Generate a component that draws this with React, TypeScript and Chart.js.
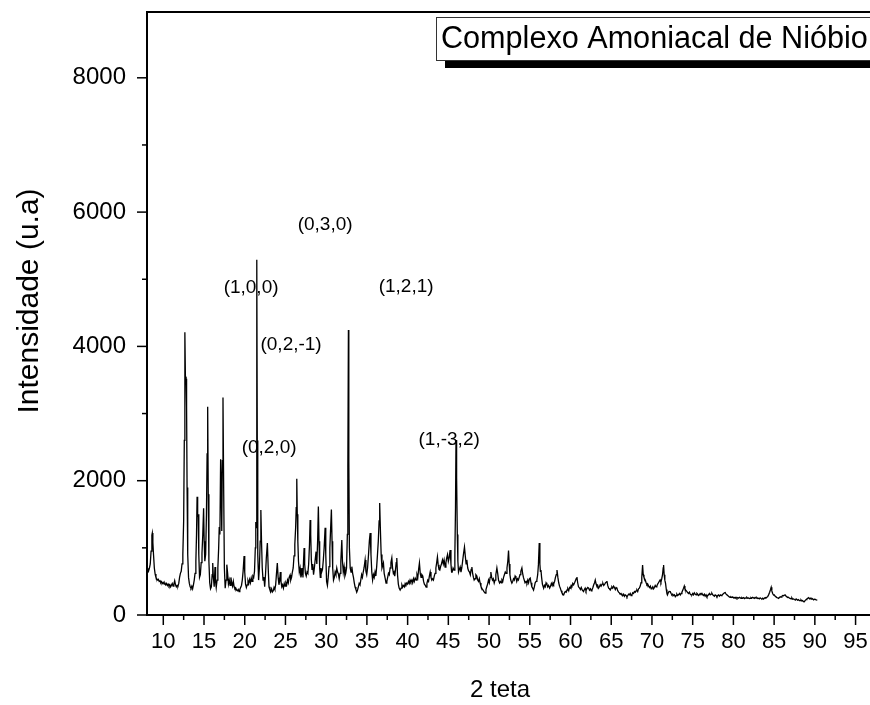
import React, { useEffect, useRef } from "react";
import { Chart, registerables } from "chart.js";

Chart.register(...registerables);

// 2θ (degrees) / intensity (u.a), split by region
const scan08to20: [number, number][] = [
  [8.02, 640], [8.1, 690], [8.2, 660], [8.3, 700], [8.4, 760], [8.5, 950], [8.6, 1190], [8.65, 1220], [8.72, 1080], [8.8, 900],
  [8.9, 700], [9.0, 610], [9.1, 560], [9.2, 540], [9.3, 520], [9.4, 530], [9.5, 500], [9.6, 510], [9.7, 480], [9.8, 495],
  [9.9, 470], [10.0, 485], [10.1, 460], [10.2, 475], [10.3, 450], [10.4, 470], [10.5, 440], [10.6, 460], [10.7, 430], [10.8, 450],
  [10.9, 420], [11.0, 445], [11.1, 470], [11.2, 430], [11.3, 460], [11.4, 510], [11.5, 450], [11.6, 420], [11.7, 440], [11.8, 430],
  [11.9, 470], [12.0, 560], [12.1, 620], [12.2, 650], [12.3, 760], [12.4, 900], [12.5, 1400], [12.58, 2600], [12.65, 4210], [12.72, 3500],
  [12.8, 3520], [12.86, 3100], [12.92, 1900], [13.0, 900], [13.1, 560], [13.2, 470], [13.3, 420], [13.4, 400], [13.5, 430], [13.6, 390],
  [13.7, 450], [13.8, 520], [13.9, 620], [14.0, 800], [14.08, 1200], [14.15, 1760], [14.22, 1460], [14.28, 1500], [14.36, 900], [14.45, 560],
  [14.55, 600], [14.65, 780], [14.75, 920], [14.85, 1200], [14.95, 1590], [15.02, 1100], [15.1, 800], [15.2, 900], [15.3, 1500], [15.38, 2400],
  [15.45, 3100], [15.52, 1800], [15.6, 800], [15.7, 480], [15.8, 390], [15.9, 420], [16.0, 600], [16.07, 774], [16.15, 560], [16.25, 420],
  [16.35, 715], [16.42, 500], [16.5, 410], [16.6, 520], [16.7, 700], [16.8, 1000], [16.87, 1310], [16.95, 1200], [17.04, 2320], [17.1, 2000],
  [17.18, 1250], [17.25, 2300], [17.33, 3240], [17.42, 1800], [17.5, 700], [17.6, 400], [17.7, 520], [17.8, 750], [17.9, 620], [18.0, 460],
  [18.1, 520], [18.2, 440], [18.3, 560], [18.4, 480], [18.5, 430], [18.6, 500], [18.7, 420], [18.8, 390], [18.9, 400], [19.0, 372],
  [19.1, 360], [19.2, 380], [19.3, 350], [19.4, 380], [19.5, 410], [19.6, 440], [19.7, 520], [19.8, 650], [19.92, 879], [20.0, 640],
];

const scan20to33: [number, number][] = [
  [20.1, 460], [20.2, 410], [20.3, 450], [20.4, 510], [20.5, 470], [20.6, 530], [20.7, 480], [20.8, 550], [20.9, 500], [21.0, 580],
  [21.1, 560], [21.2, 650], [21.3, 1000], [21.36, 1385], [21.42, 1300], [21.48, 5290], [21.54, 2600], [21.6, 900], [21.7, 520], [21.8, 700],
  [21.9, 1100], [21.98, 1563], [22.06, 1100], [22.15, 700], [22.25, 520], [22.35, 566], [22.45, 420], [22.55, 600], [22.65, 850], [22.78, 1072],
  [22.88, 700], [22.98, 420], [23.1, 372], [23.2, 350], [23.3, 390], [23.4, 342], [23.5, 360], [23.6, 410], [23.7, 380], [23.8, 450],
  [23.9, 620], [24.0, 774], [24.1, 560], [24.2, 450], [24.3, 520], [24.37, 640], [24.45, 500], [24.55, 420], [24.65, 450], [24.75, 400],
  [24.85, 470], [24.95, 430], [25.05, 480], [25.15, 450], [25.25, 520], [25.35, 480], [25.45, 560], [25.57, 596], [25.65, 520], [25.75, 560],
  [25.85, 640], [25.95, 700], [26.05, 880], [26.15, 1050], [26.25, 1300], [26.32, 1600], [26.39, 2030], [26.45, 1500], [26.52, 1100], [26.6, 800],
  [26.7, 640], [26.8, 700], [26.9, 560], [27.0, 625], [27.08, 700], [27.15, 560], [27.22, 800], [27.29, 997], [27.36, 760], [27.45, 620],
  [27.55, 580], [27.65, 640], [27.75, 620], [27.85, 760], [27.95, 1050], [28.03, 1415], [28.1, 1200], [28.18, 820], [28.26, 680], [28.35, 760],
  [28.45, 600], [28.55, 700], [28.65, 820], [28.76, 943], [28.85, 760], [28.95, 1100], [29.04, 1615], [29.12, 1100], [29.2, 700], [29.28, 560],
  [29.36, 700], [29.45, 640], [29.55, 680], [29.65, 820], [29.75, 1000], [29.87, 1300], [29.95, 900], [30.05, 500], [30.15, 440], [30.25, 560],
  [30.35, 720], [30.45, 1000], [30.55, 1300], [30.64, 1570], [30.72, 1100], [30.8, 700], [30.9, 520], [31.0, 560], [31.1, 640], [31.2, 600],
  [31.3, 700], [31.4, 640], [31.5, 610], [31.6, 540], [31.7, 620], [31.8, 800], [31.92, 1117], [32.0, 800], [32.1, 640], [32.2, 720],
  [32.3, 580], [32.4, 620], [32.5, 700], [32.6, 1200], [32.66, 2200], [32.73, 4244], [32.78, 2300], [32.85, 1000], [32.95, 700],
];

const scan33to47: [number, number][] = [
  [33.05, 640], [33.15, 720], [33.25, 620], [33.35, 560], [33.45, 480], [33.55, 417], [33.65, 380], [33.75, 340], [33.85, 372], [33.95, 420],
  [34.05, 470], [34.15, 450], [34.25, 520], [34.35, 600], [34.45, 560], [34.55, 640], [34.65, 700], [34.78, 819], [34.88, 650], [34.98, 600],
  [35.08, 700], [35.2, 900], [35.3, 1100], [35.4, 1220], [35.5, 900], [35.6, 640], [35.7, 520], [35.8, 600], [35.9, 560], [36.0, 640],
  [36.1, 580], [36.2, 720], [36.3, 900], [36.4, 1100], [36.5, 1400], [36.57, 1668], [36.65, 1300], [36.75, 900], [36.85, 700], [36.95, 740],
  [37.03, 774], [37.12, 620], [37.25, 540], [37.35, 476], [37.45, 500], [37.55, 560], [37.65, 620], [37.75, 600], [37.85, 700], [37.95, 780],
  [38.06, 849], [38.15, 700], [38.25, 620], [38.33, 640], [38.42, 580], [38.5, 660], [38.6, 780], [38.67, 849], [38.76, 600], [38.86, 460],
  [38.96, 400], [39.08, 372], [39.2, 400], [39.3, 450], [39.4, 417], [39.5, 440], [39.6, 420], [39.7, 470], [39.8, 450], [39.9, 476],
  [40.0, 460], [40.1, 500], [40.2, 470], [40.3, 520], [40.4, 490], [40.52, 521], [40.62, 480], [40.72, 540], [40.82, 500], [40.93, 550],
  [41.05, 520], [41.15, 600], [41.25, 560], [41.35, 680], [41.45, 774], [41.55, 620], [41.65, 560], [41.75, 600], [41.86, 580], [41.96, 500],
  [42.06, 460], [42.17, 440], [42.27, 417], [42.37, 470], [42.47, 520], [42.57, 500], [42.67, 580], [42.77, 640], [42.87, 560], [42.97, 520],
  [43.07, 540], [43.17, 521], [43.27, 580], [43.37, 620], [43.47, 700], [43.57, 780], [43.66, 864], [43.75, 750], [43.85, 680], [43.95, 670],
  [44.05, 720], [44.15, 760], [44.28, 820], [44.38, 760], [44.48, 820], [44.6, 715], [44.7, 780], [44.8, 850], [44.9, 900], [45.0, 800],
  [45.1, 850], [45.22, 968], [45.32, 760], [45.4, 640], [45.47, 640], [45.58, 700], [45.7, 670], [45.8, 900], [45.88, 1600], [45.94, 2606],
  [45.99, 2560], [46.04, 2050], [46.1, 1200], [46.17, 800], [46.25, 640], [46.35, 680], [46.45, 715], [46.55, 640], [46.65, 700], [46.75, 800],
  [46.85, 900], [46.98, 1012],
];

const scan47to60: [number, number][] = [
  [47.08, 880], [47.18, 760], [47.27, 820], [47.38, 700], [47.48, 660], [47.6, 640], [47.7, 600], [47.8, 680], [47.89, 715], [47.98, 620],
  [48.08, 560], [48.17, 521], [48.28, 540], [48.38, 600], [48.5, 580], [48.6, 520], [48.7, 500], [48.8, 540], [48.9, 476], [49.0, 430],
  [49.1, 400], [49.2, 380], [49.32, 360], [49.42, 340], [49.52, 327], [49.62, 380], [49.72, 420], [49.82, 460], [49.93, 521], [50.03, 480],
  [50.13, 560], [50.22, 640], [50.32, 560], [50.42, 520], [50.52, 540], [50.63, 476], [50.73, 520], [50.83, 600], [50.96, 700], [51.06, 620],
  [51.16, 520], [51.29, 476], [51.4, 500], [51.5, 480], [51.58, 521], [51.68, 500], [51.78, 560], [51.88, 600], [51.99, 640], [52.1, 620],
  [52.2, 700], [52.3, 800], [52.39, 960], [52.47, 760], [52.56, 600], [52.66, 520], [52.8, 476], [52.9, 500], [53.0, 540], [53.1, 520],
  [53.2, 580], [53.3, 560], [53.4, 500], [53.5, 540], [53.6, 521], [53.7, 560], [53.8, 600], [53.9, 650], [54.03, 700], [54.12, 620],
  [54.22, 560], [54.32, 520], [54.42, 480], [54.55, 500], [54.65, 476], [54.75, 520], [54.85, 480], [54.95, 540], [55.05, 551], [55.15, 480],
  [55.25, 420], [55.35, 400], [55.46, 372], [55.56, 420], [55.66, 480], [55.77, 500], [55.87, 521], [55.97, 600], [56.06, 750], [56.16, 1072],
  [56.24, 760], [56.3, 650], [56.37, 670], [56.45, 560], [56.55, 460], [56.7, 400], [56.8, 440], [56.9, 420], [57.0, 480], [57.1, 460],
  [57.2, 420], [57.3, 440], [57.44, 400], [57.55, 430], [57.65, 470], [57.75, 440], [57.85, 480], [57.93, 460], [58.05, 500], [58.15, 560],
  [58.25, 600], [58.34, 670], [58.45, 560], [58.55, 480], [58.65, 430], [58.75, 400], [58.85, 360], [58.95, 330], [59.05, 310], [59.16, 300],
  [59.26, 330], [59.36, 350], [59.47, 340], [59.57, 372], [59.67, 390], [59.78, 360], [59.88, 410], [59.98, 400],
];

const scan60to75: [number, number][] = [
  [60.08, 440], [60.18, 430], [60.28, 470], [60.38, 450], [60.5, 480], [60.6, 510], [60.7, 540], [60.79, 566], [60.88, 480], [60.98, 420],
  [61.12, 400], [61.22, 380], [61.32, 410], [61.45, 370], [61.6, 350], [61.7, 380], [61.8, 400], [61.9, 360], [62.0, 390], [62.12, 410],
  [62.23, 400], [62.33, 370], [62.45, 390], [62.55, 360], [62.63, 372], [62.75, 410], [62.85, 450], [62.95, 480], [63.04, 521], [63.14, 460],
  [63.24, 430], [63.34, 440], [63.45, 400], [63.55, 420], [63.65, 450], [63.75, 430], [63.88, 460], [63.98, 470], [64.08, 440], [64.2, 460],
  [64.3, 480], [64.4, 490], [64.47, 506], [64.57, 440], [64.68, 400], [64.78, 390], [64.88, 372], [64.98, 400], [65.08, 420], [65.19, 400],
  [65.29, 430], [65.4, 410], [65.5, 380], [65.6, 410], [65.7, 400], [65.8, 360], [65.9, 340], [66.0, 330], [66.1, 310], [66.2, 320],
  [66.3, 300], [66.42, 290], [66.52, 310], [66.62, 280], [66.72, 300], [66.82, 290], [66.93, 268], [67.03, 290], [67.13, 310], [67.23, 300],
  [67.33, 320], [67.43, 290], [67.54, 300], [67.64, 330], [67.74, 320], [67.85, 350], [67.95, 340], [68.05, 360], [68.15, 372], [68.25, 350],
  [68.35, 390], [68.45, 400], [68.56, 430], [68.66, 480], [68.75, 560], [68.85, 744], [68.93, 600], [69.02, 560], [69.1, 540], [69.18, 521],
  [69.28, 480], [69.38, 450], [69.48, 460], [69.59, 430], [69.7, 410], [69.8, 430], [69.9, 390], [70.0, 400], [70.1, 420], [70.2, 390],
  [70.3, 410], [70.4, 440], [70.5, 420], [70.6, 430], [70.7, 460], [70.8, 480], [70.9, 500], [71.0, 521], [71.1, 490], [71.2, 540],
  [71.3, 600], [71.38, 700], [71.43, 744], [71.5, 600], [71.58, 520], [71.67, 470], [71.76, 380], [71.84, 320], [71.9, 300], [72.0, 330],
  [72.1, 350], [72.25, 347], [72.35, 320], [72.45, 300], [72.55, 310], [72.65, 290], [72.76, 300], [72.86, 272], [72.96, 290], [73.06, 310],
  [73.16, 290], [73.26, 300], [73.38, 320], [73.48, 298], [73.58, 320], [73.68, 340], [73.78, 370], [73.88, 400], [73.97, 432], [74.05, 390],
  [74.15, 370], [74.3, 347], [74.4, 330], [74.5, 320], [74.6, 340], [74.7, 310], [74.8, 300], [74.9, 298],
];

const scan75to90: [number, number][] = [
  [75.0, 320], [75.1, 300], [75.2, 330], [75.32, 310], [75.42, 300], [75.52, 323], [75.62, 310], [75.72, 290], [75.82, 300], [75.92, 320],
  [76.02, 310], [76.13, 323], [76.23, 300], [76.33, 290], [76.43, 310], [76.53, 280], [76.64, 300], [76.75, 272], [76.85, 290], [76.95, 300],
  [77.05, 320], [77.15, 300], [77.26, 310], [77.36, 323], [77.46, 300], [77.56, 290], [77.66, 280], [77.76, 300], [77.88, 290], [77.98, 272],
  [78.08, 290], [78.18, 300], [78.28, 280], [78.4, 300], [78.5, 290], [78.6, 298], [78.7, 310], [78.8, 320], [78.9, 330], [79.0, 335],
  [79.1, 310], [79.2, 300], [79.3, 290], [79.4, 280], [79.5, 270], [79.6, 263], [79.7, 270], [79.8, 260], [79.92, 270], [80.02, 255],
  [80.12, 260], [80.22, 250], [80.32, 265], [80.43, 248], [80.53, 260], [80.63, 250], [80.73, 262], [80.84, 255], [80.94, 248], [81.04, 260],
  [81.14, 250], [81.25, 258], [81.35, 245], [81.45, 255], [81.55, 250], [81.65, 262], [81.75, 250], [81.86, 255], [81.96, 245], [82.06, 248],
  [82.16, 260], [82.26, 250], [82.36, 262], [82.47, 255], [82.57, 248], [82.67, 262], [82.78, 250], [82.88, 258], [82.98, 245], [83.08, 250],
  [83.18, 240], [83.28, 255], [83.39, 245], [83.5, 240], [83.6, 250], [83.7, 238], [83.8, 250], [83.9, 260], [84.0, 255], [84.1, 265],
  [84.2, 272], [84.32, 300], [84.45, 340], [84.56, 380], [84.64, 412], [84.72, 360], [84.82, 320], [84.93, 298], [85.03, 300], [85.13, 280],
  [85.23, 270], [85.33, 260], [85.45, 255], [85.55, 248], [85.65, 260], [85.75, 270], [85.85, 265], [85.95, 280], [86.05, 290], [86.15, 285],
  [86.25, 295], [86.37, 298], [86.47, 280], [86.57, 270], [86.67, 260], [86.77, 265], [86.87, 250], [86.98, 248], [87.08, 240], [87.18, 255],
  [87.28, 235], [87.38, 240], [87.5, 230], [87.6, 223], [87.7, 240], [87.8, 230], [87.9, 220], [88.0, 230], [88.1, 215], [88.2, 213],
  [88.3, 225], [88.4, 210], [88.5, 215], [88.6, 200], [88.7, 198], [88.8, 215], [88.92, 230], [89.02, 240], [89.12, 250], [89.24, 258],
  [89.34, 240], [89.44, 250], [89.55, 235], [89.65, 248], [89.75, 240], [89.85, 225], [89.95, 235], [90.06, 233], [90.16, 225], [90.3, 223],
];

const xTicks = [10, 15, 20, 25, 30, 35, 40, 45, 50, 55, 60, 65, 70, 75, 80, 85, 90, 95];
const yTicks = [0, 2000, 4000, 6000, 8000];

const peakLabels = ["(1,0,0)", "(0,3,0)", "(1,2,1)", "(0,2,-1)", "(0,2,0)", "(1,-3,2)"];
const labelTheta = [20.78, 29.87, 39.82, 25.69, 22.99, 45.1];
const labelIntensity = [4869, 5807, 4884, 4020, 2487, 2606];

const seriesName = "Complexo Amoniacal de Nióbio";
const xTitle = "2 teta";
const yTitle = "Intensidade (u.a)";

const SANS = "'Liberation Sans', Arial, Helvetica, sans-serif";

// target plot-area edges (px)
const AREA = { left: 147, top: 12, right: 880, bottom: 615 };

const overlay = {
  id: "overlay",
  afterDraw(chart: any) {
    const { ctx, chartArea: a } = chart;
    const x = chart.scales.x;
    const y = chart.scales.y;
    ctx.save();
    ctx.strokeStyle = "#000";
    ctx.fillStyle = "#000";

    // frame
    ctx.lineWidth = 2;
    ctx.beginPath();
    ctx.moveTo(a.right + 5, a.top);
    ctx.lineTo(a.left, a.top);
    ctx.lineTo(a.left, a.bottom);
    ctx.lineTo(a.right + 5, a.bottom);
    ctx.stroke();

    // tick marks
    ctx.lineWidth = 1.5;
    for (let v = 10; v <= x.max; v += 2.5) {
      const px = x.getPixelForValue(v);
      const major = v % 5 === 0;
      ctx.beginPath();
      ctx.moveTo(px, a.bottom);
      ctx.lineTo(px, a.bottom + (major ? 10 : 5));
      ctx.stroke();
    }
    for (let v = 0; v <= y.max; v += 1000) {
      const py = y.getPixelForValue(v);
      const major = v % 2000 === 0;
      ctx.beginPath();
      ctx.moveTo(a.left, py);
      ctx.lineTo(a.left - (major ? 10 : 5), py);
      ctx.stroke();
    }

    // peak annotations
    ctx.font = `19px ${SANS}`;
    ctx.textAlign = "center";
    ctx.textBaseline = "middle";
    peakLabels.forEach((t, i) => {
      ctx.fillText(t, x.getPixelForValue(labelTheta[i]), y.getPixelForValue(labelIntensity[i]));
    });

    // axis titles
    ctx.font = `24px ${SANS}`;
    ctx.fillText(xTitle, 500, 690);
    ctx.save();
    ctx.translate(30, 301);
    ctx.rotate(-Math.PI / 2);
    ctx.font = `30px ${SANS}`;
    ctx.fillText(yTitle, 0, 0);
    ctx.restore();

    // legend box with shadow
    ctx.fillStyle = "#000";
    ctx.fillRect(445, 26, 470, 42);
    ctx.fillStyle = "#fff";
    ctx.fillRect(436, 17, 470, 43);
    ctx.lineWidth = 1;
    ctx.strokeStyle = "#333";
    ctx.strokeRect(436.5, 17.5, 470, 43);
    ctx.fillStyle = "#000";
    ctx.font = `30.6px ${SANS}`;
    ctx.textAlign = "left";
    ctx.fillText(seriesName, 441, 40);
    ctx.restore();
  },
};

export default function App() {
  const ref = useRef<HTMLCanvasElement>(null);

  useEffect(() => {
    const canvas = ref.current;
    if (!canvas) return;
    const points = [...scan08to20, ...scan20to33, ...scan33to47, ...scan47to60, ...scan60to75, ...scan75to90].map(
      ([t, i]) => ({ x: t, y: i })
    );
    const chart: any = new Chart(canvas, {
      type: "line",
      data: {
        datasets: [
          {
            label: seriesName,
            data: points,
            borderColor: "#000",
            borderWidth: 1.3,
            pointRadius: 0,
            fill: false,
            tension: 0,
          },
        ],
      },
      options: {
        animation: false,
        responsive: false,
        devicePixelRatio: 1,
        layout: { padding: { top: AREA.top, right: 890 - AREA.right, left: 0, bottom: 0 } },
        plugins: { legend: { display: false }, tooltip: { enabled: false }, title: { display: false } },
        scales: {
          x: {
            type: "linear",
            min: 8,
            max: 98,
            grid: { display: false, drawTicks: false },
            border: { display: false },
            afterBuildTicks: (s: any) => {
              s.ticks = xTicks.map((v) => ({ value: v }));
            },
            afterFit: (s: any) => {
              s.height = 705 - AREA.bottom;
              s.paddingLeft = 0;
              s.paddingRight = 0;
              s.paddingTop = 0;
              s.paddingBottom = 0;
            },
            ticks: {
              padding: 14,
              color: "#000",
              autoSkip: false,
              maxRotation: 0,
              font: { family: SANS, size: 22 },
              callback: (v: any) => String(v),
            },
          },
          y: {
            type: "linear",
            min: 0,
            max: 8980,
            grid: { display: false, drawTicks: false },
            border: { display: false },
            afterBuildTicks: (s: any) => {
              s.ticks = yTicks.map((v) => ({ value: v }));
            },
            afterFit: (s: any) => {
              s.width = AREA.left;
              s.paddingLeft = 0;
              s.paddingRight = 0;
              s.paddingTop = 0;
              s.paddingBottom = 0;
            },
            ticks: {
              padding: 21,
              color: "#000",
              font: { family: SANS, size: 24 },
              callback: (v: any) => String(v),
            },
          },
        },
      },
      plugins: [overlay],
    });

    // correct any residual layout offset so the plot area sits where the reference has it
    for (let k = 0; k < 3; k++) {
      const ca = chart.chartArea;
      const dt = ca.top - AREA.top;
      const dl = ca.left - AREA.left;
      const db = ca.bottom - AREA.bottom;
      const dr = ca.right - AREA.right;
      if (Math.abs(dt) < 0.5 && Math.abs(dl) < 0.5 && Math.abs(db) < 0.5 && Math.abs(dr) < 0.5) break;
      const p = chart.options.layout.padding;
      p.top -= dt;
      p.left -= dl;
      p.bottom += db;
      p.right += dr;
      chart.update();
    }

    return () => chart.destroy();
  }, []);

  return (
    <div
      style={{
        position: "fixed",
        left: 0,
        top: 0,
        width: 870,
        height: 705,
        overflow: "hidden",
        background: "#fff",
      }}
    >
      <canvas ref={ref} width={890} height={705} style={{ display: "block" }} />
    </div>
  );
}
